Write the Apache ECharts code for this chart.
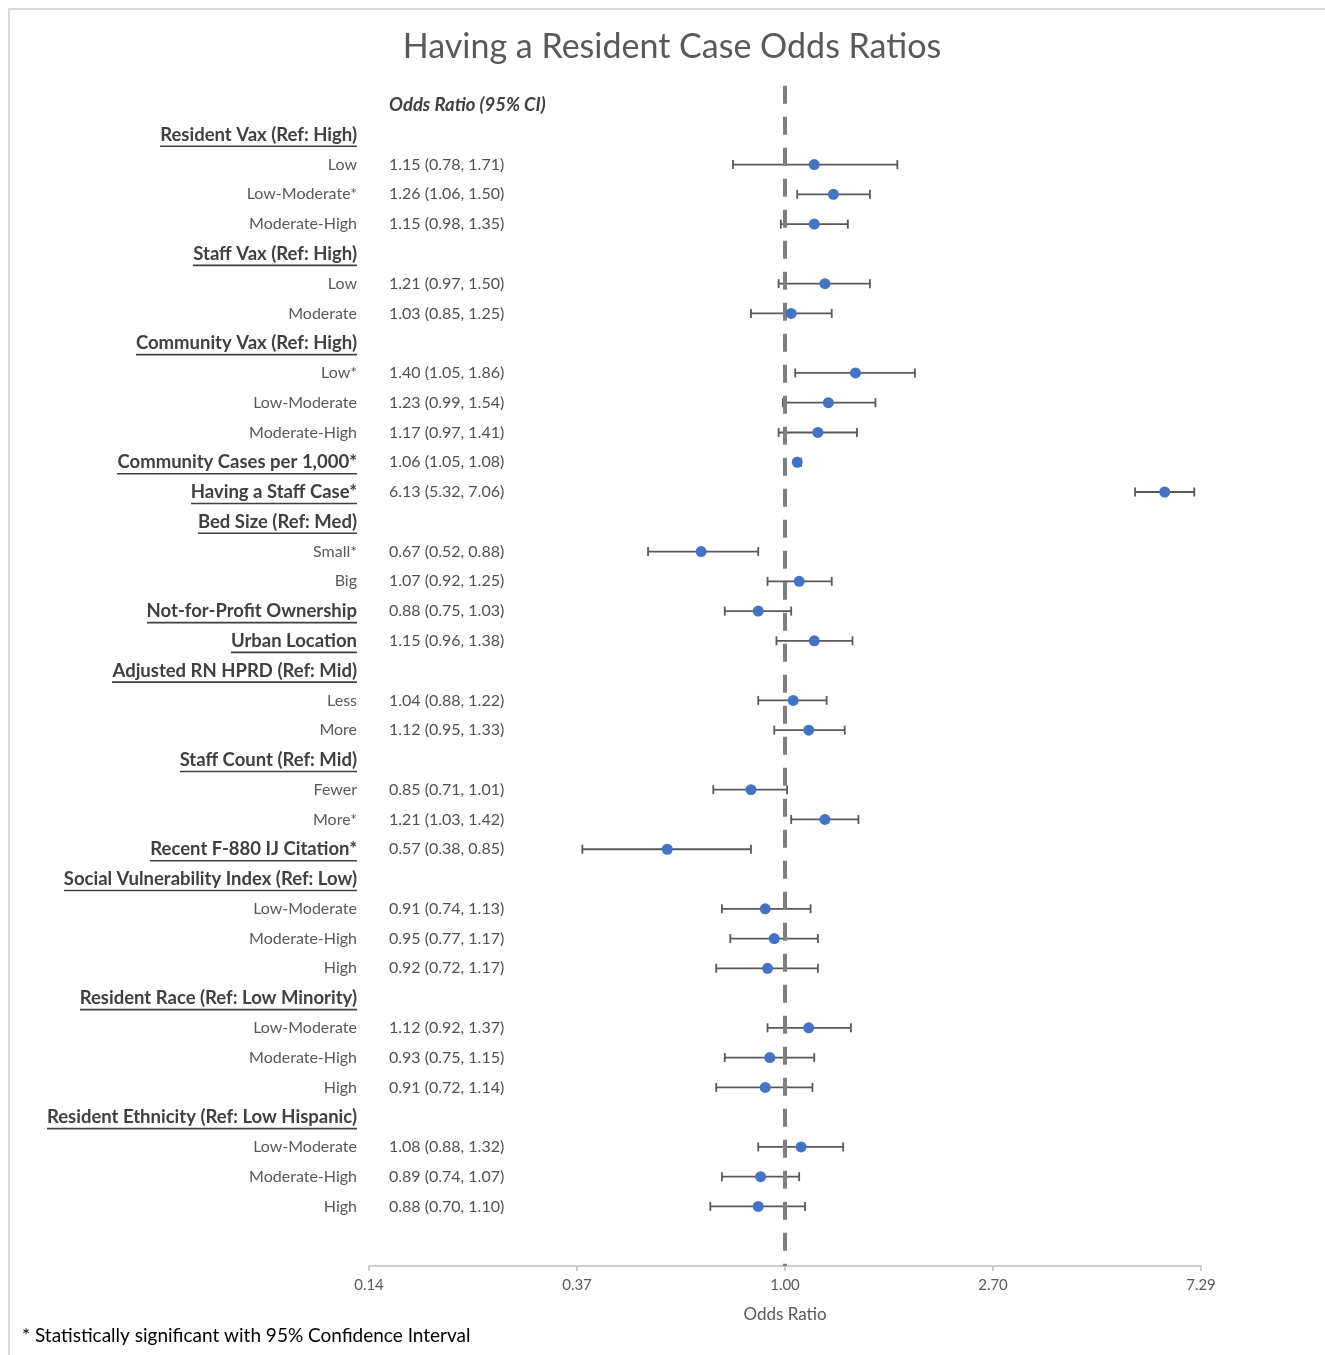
<!DOCTYPE html>
<html><head><meta charset="utf-8">
<script src="https://cdn.jsdelivr.net/npm/echarts@6/dist/echarts.min.js"></script>
<style>
html,body{margin:0;padding:0;background:#fff;overflow:hidden;width:1325px;height:1355px;}
#frame{position:absolute;left:8px;top:8px;width:1360px;height:1380px;border:2px solid #d9d9d9;box-sizing:border-box;}
#chart{position:absolute;left:0;top:0;width:1344px;height:1355px;}
</style></head><body><div id="frame"></div><div id="chart"></div>
<script>
const headerText = 'Odds Ratio (95% CI)';
const labels = [
 'Resident Vax (Ref: High)','Low','Low-Moderate*','Moderate-High',
 'Staff Vax (Ref: High)','Low','Moderate',
 'Community Vax (Ref: High)','Low*','Low-Moderate','Moderate-High',
 'Community Cases per 1,000*','Having a Staff Case*',
 'Bed Size (Ref: Med)','Small*','Big',
 'Not-for-Profit Ownership','Urban Location',
 'Adjusted RN HPRD (Ref: Mid)','Less','More',
 'Staff Count (Ref: Mid)','Fewer','More*',
 'Recent F-880 IJ Citation*',
 'Social Vulnerability Index (Ref: Low)','Low-Moderate','Moderate-High','High',
 'Resident Race (Ref: Low Minority)','Low-Moderate','Moderate-High','High',
 'Resident Ethnicity (Ref: Low Hispanic)','Low-Moderate','Moderate-High','High'
];
const isHeading = [
 1,0,0,0, 1,0,0, 1,0,0,0, 1,1, 1,0,0, 1,1, 1,0,0, 1,0,0, 1, 1,0,0,0, 1,0,0,0, 1,0,0,0
];
const oddsRatio = [
 null,1.15,1.26,1.15, null,1.21,1.03, null,1.40,1.23,1.17, 1.06,6.13, null,0.67,1.07, 0.88,1.15,
 null,1.04,1.12, null,0.85,1.21, 0.57, null,0.91,0.95,0.92, null,1.12,0.93,0.91, null,1.08,0.89,0.88
];
const ciLow = [
 null,0.78,1.06,0.98, null,0.97,0.85, null,1.05,0.99,0.97, 1.05,5.32, null,0.52,0.92, 0.75,0.96,
 null,0.88,0.95, null,0.71,1.03, 0.38, null,0.74,0.77,0.72, null,0.92,0.75,0.72, null,0.88,0.74,0.70
];
const ciHigh = [
 null,1.71,1.50,1.35, null,1.50,1.25, null,1.86,1.54,1.41, 1.08,7.06, null,0.88,1.25, 1.03,1.38,
 null,1.22,1.33, null,1.01,1.42, 0.85, null,1.13,1.17,1.17, null,1.37,1.15,1.14, null,1.32,1.07,1.10
];
const LOG_BASE = 2.7;

const FONT = 'Lato';
const HEAD_SIZE = 18.5;
const canvas = document.createElement('canvas');
const ctx = canvas.getContext('2d');
ctx.font = 'bold ' + HEAD_SIZE + 'px ' + FONT;

const rich = {
  n: {fontFamily: FONT, fontSize: 16, color: '#595959', lineHeight: 20},
  s: {fontSize: 1, lineHeight: 3},
  h: {fontFamily: FONT, fontSize: HEAD_SIZE, fontWeight: 'bold', color: '#404040', lineHeight: 20}
};
labels.forEach((t, i) => {
  if (isHeading[i]) {
    rich['u' + i] = {width: Math.round(ctx.measureText(t).width), height: 1.6, lineHeight: 3, fontSize: 1, backgroundColor: '#404040'};
  }
});
const richOR = {
  o: {fontFamily: FONT, fontSize: 16, color: '#505050'},
  hd: {fontFamily: FONT, fontSize: HEAD_SIZE, color: '#404040', fontWeight: 'bold', fontStyle: 'italic'}
};

function rowIndex(v) { return Math.round(v) - 1; }

const errData = [], ptData = [];
oddsRatio.forEach((v, i) => {
  if (v != null) {
    errData.push([ciLow[i], ciHigh[i], i + 1]);
    ptData.push([v, i + 1]);
  }
});

const yCommon = {
  type: 'value', inverse: true, min: -1, max: 39, interval: 1,
  axisLine: {show: false}, axisTick: {show: false}, splitLine: {show: false}
};

const chart = echarts.init(document.getElementById('chart'), null, {renderer: 'canvas'});
chart.setOption({
  animation: false,
  title: {
    text: 'Having a Resident Case Odds Ratios', left: 'center', top: 25,
    textStyle: {fontFamily: FONT, fontSize: 34, fontWeight: 'normal', color: '#595959'}
  },
  grid: {left: 369, right: 143, top: 75.25, bottom: 89, containLabel: false, outerBoundsMode: 'none'},
  xAxis: {
    type: 'log', logBase: LOG_BASE,
    min: Math.pow(LOG_BASE, -2), max: Math.pow(LOG_BASE, 2),
    name: 'Odds Ratio', nameLocation: 'middle', nameGap: 40,
    nameTextStyle: {fontFamily: FONT, fontSize: 17, color: '#595959'},
    axisLine: {onZero: false, lineStyle: {color: '#bfbfbf', width: 1.5}},
    axisTick: {show: true, length: 5, lineStyle: {color: '#bfbfbf', width: 1.5}},
    splitLine: {show: false},
    minorTick: {show: false},
    axisLabel: {fontFamily: FONT, fontSize: 15, color: '#595959', margin: 12,
      formatter: v => Number(v).toFixed(2)}
  },
  yAxis: [
    Object.assign({}, yCommon, {
      position: 'left',
      axisLabel: {margin: 12, rich: rich, formatter: v => {
        const i = rowIndex(v);
        if (i < 0 || i >= labels.length) return '';
        if (isHeading[i]) return '{s| }\n{h|' + labels[i] + '}\n{u' + i + '| }';
        return '{n|' + labels[i] + '}';
      }}
    }),
    Object.assign({}, yCommon, {
      position: 'left',
      axisLabel: {inside: true, margin: 20, rich: richOR, formatter: v => {
        const r = Math.round(v);
        if (r === 0) return '{hd|' + headerText + '}';
        const i = r - 1;
        if (i < 0 || i >= labels.length || oddsRatio[i] == null) return '';
        return '{o|' + oddsRatio[i].toFixed(2) + ' (' + ciLow[i].toFixed(2) + ', ' + ciHigh[i].toFixed(2) + ')}';
      }}
    })
  ],
  series: [
    {
      type: 'custom', yAxisIndex: 0, z: 2, silent: true,
      data: errData,
      encode: {x: [0, 1], y: 2},
      renderItem: (params, api) => {
        const y = api.value(2);
        const p1 = api.coord([api.value(0), y]);
        const p2 = api.coord([api.value(1), y]);
        const c = 4.5;
        const st = {stroke: '#595959', lineWidth: 1.8};
        return {type: 'group', children: [
          {type: 'line', shape: {x1: p1[0], y1: p1[1], x2: p2[0], y2: p2[1]}, style: st},
          {type: 'line', shape: {x1: p1[0], y1: p1[1] - c, x2: p1[0], y2: p1[1] + c}, style: st},
          {type: 'line', shape: {x1: p2[0], y1: p2[1] - c, x2: p2[0], y2: p2[1] + c}, style: st}
        ]};
      }
    },
    {
      type: 'line', yAxisIndex: 0, z: 3, silent: true, showSymbol: false, symbol: 'none',
      data: [[1, -0.65], [1, 39]],
      lineStyle: {color: '#7f7f7f', width: 4, type: [18, 13]}
    },
    {
      type: 'scatter', yAxisIndex: 0, z: 4, symbolSize: 11,
      itemStyle: {color: '#4472c4', opacity: 1},
      data: ptData
    }
  ],
  graphic: [
    {type: 'text', left: 22, top: 1326,
     style: {text: '* Statistically significant with 95% Confidence Interval', fontFamily: FONT, fontSize: 19, fill: '#000'}}
  ]
});
</script>
</body></html>
